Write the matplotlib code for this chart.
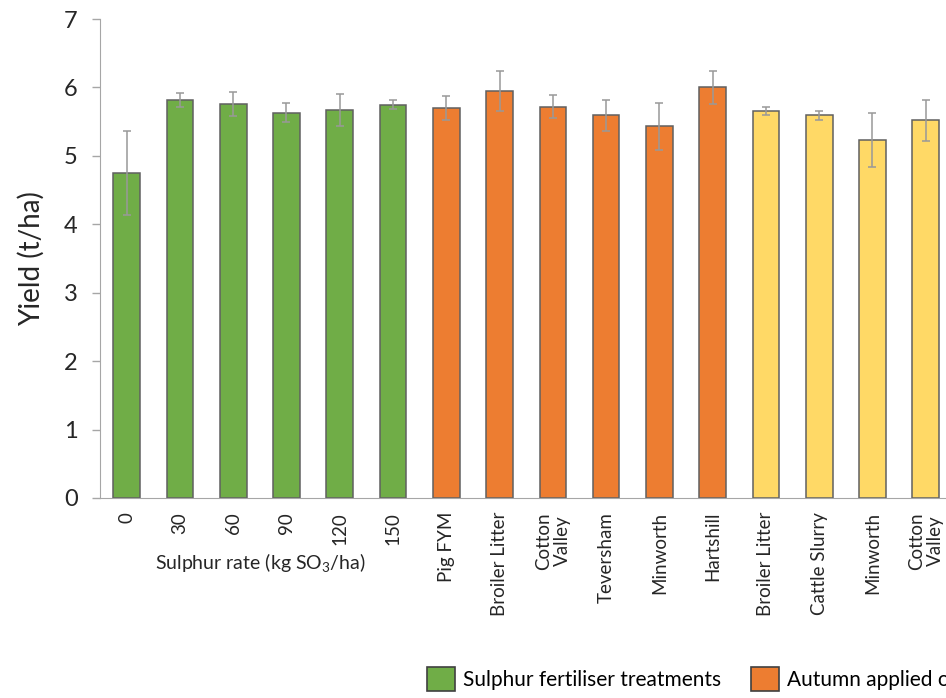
import matplotlib
matplotlib.use('Agg')
import matplotlib.pyplot as plt
from matplotlib.patches import Patch

plt.rcParams['font.family'] = ['Lato', 'DejaVu Sans']
plt.rcParams['mathtext.fontset'] = 'custom'
plt.rcParams['mathtext.rm'] = 'Lato'
plt.rcParams['mathtext.it'] = 'Lato'

# data
labels = ['0', '30', '60', '90', '120', '150',
          'Pig FYM', 'Broiler Litter', 'Cotton\nValley', 'Teversham', 'Minworth', 'Hartshill',
          'Broiler Litter', 'Cattle Slurry', 'Minworth', 'Cotton\nValley']
yields = [4.75, 5.82, 5.76, 5.63, 5.67, 5.75,
          5.70, 5.95, 5.72, 5.59, 5.43, 6.00,
          5.65, 5.59, 5.23, 5.52]
errors = [0.62, 0.10, 0.18, 0.14, 0.23, 0.07,
          0.17, 0.29, 0.17, 0.22, 0.34, 0.24,
          0.06, 0.06, 0.40, 0.30]
groups = ['S'] * 6 + ['A'] * 6 + ['P'] * 4
group_names = {'S': 'Sulphur fertiliser treatments',
               'A': 'Autumn applied organic materials'}

C_GREEN = '#70AD47'
C_ORANGE = '#ED7D31'
C_YELLOW = '#FFD966'
colours = {'S': C_GREEN, 'A': C_ORANGE, 'P': C_YELLOW}
C_AXIS = '#A6A6A6'
C_TEXT = '#262626'

fig = plt.figure(figsize=(9.46, 6.98), dpi=100)
fig.patch.set_facecolor('white')
ax = fig.add_axes([100 / 946, 200 / 698, 852.4 / 946, 479 / 698])

x = list(range(len(yields)))
ax.bar(x, yields, width=0.5, color=[colours[g] for g in groups],
       edgecolor='#606060', linewidth=1.1, zorder=2)
ax.errorbar(x, yields, yerr=errors, fmt='none', ecolor='#999999',
            elinewidth=1.1, capsize=3, capthick=1.1, zorder=3)

ax.set_xlim(-0.5, len(yields) - 0.5)
ax.set_ylim(0, 7)
ax.set_yticks(range(0, 8))
ax.tick_params(axis='y', labelsize=17, colors=C_AXIS, labelcolor=C_TEXT,
               length=6, width=1, direction='out', pad=10)
ax.set_xticks(x)
ax.set_xticklabels(labels, rotation=90, fontsize=13.5, color=C_TEXT,
                   linespacing=1.1, va='top')
ax.tick_params(axis='x', length=0, pad=10)
for s in ['top', 'right']:
    ax.spines[s].set_visible(False)
ax.spines['left'].set_color(C_AXIS)
ax.spines['bottom'].set_color(C_AXIS)
ax.set_ylabel('Yield (t/ha)', fontsize=20, color=C_TEXT, labelpad=14)

fig.text(260 / 946, 1 - 563 / 698, 'Sulphur rate (kg SO$_3$/ha)',
         fontsize=14, color=C_TEXT, ha='center', va='center')

handles = [Patch(facecolor=colours[k], edgecolor='#404040', linewidth=1.2)
           for k in ['S', 'A']]
fig.legend(handles, [group_names[k] for k in ['S', 'A']],
           loc='center left', bbox_to_anchor=(408 / 946, 1 - 679 / 698),
           ncol=2, frameon=False, fontsize=15, handlelength=1.35,
           handleheight=1.45, handletextpad=0.4, columnspacing=1.4)

fig.savefig('out.png', dpi=100, facecolor='white')
